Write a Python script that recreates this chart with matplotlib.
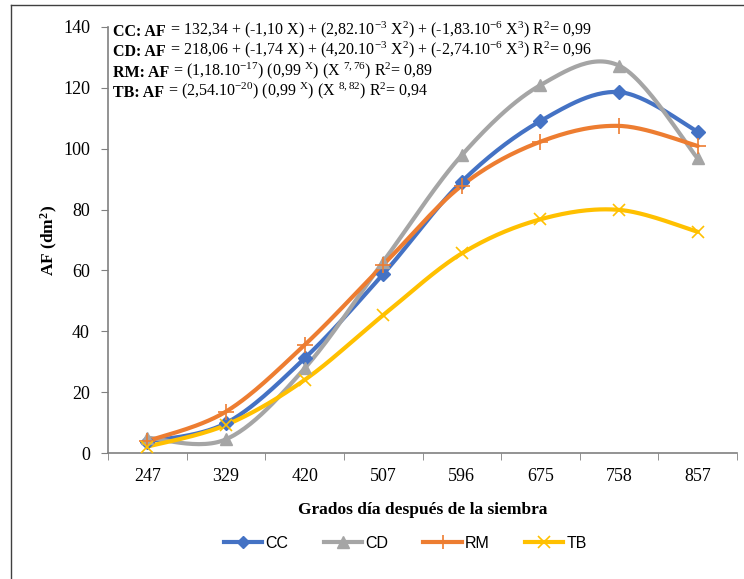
import numpy as np
import matplotlib.pyplot as plt
from matplotlib.lines import Line2D

plt.rcParams["font.family"] = "Liberation Serif"
plt.rcParams["mathtext.fontset"] = "custom"
plt.rcParams["mathtext.rm"] = "Liberation Serif"
plt.rcParams["mathtext.it"] = "Liberation Serif"
plt.rcParams["mathtext.bf"] = "Liberation Serif:bold"

# Data
grados = ["247", "329", "420", "507", "596", "675", "758", "857"]
cc = [3.7, 9.8, 31.1, 58.8, 89.2, 109.1, 118.6, 105.6]
cd = [5.0, 4.5, 27.8, 62.9, 97.9, 120.9, 127.3, 96.8]
rm = [3.9, 13.6, 35.5, 61.8, 87.9, 102.3, 107.5, 100.9]
tb = [2.1, 9.2, 24.0, 45.3, 65.6, 76.8, 79.9, 72.7]

series = [
    ("CC", cc, "#4472C4", "D", 7, 1.0),
    ("CD", cd, "#A5A5A5", "^", 9, 1.0),
    ("RM", rm, "#ED7D31", "+", 11, 1.2),
    ("TB", tb, "#FFC000", "x", 9, 1.2),
]

# fitted equations: bold prefix + rest
eq_heads = ["CC: AF", "CD: AF", "RM: AF", "TB: AF"]
eq_tails = [
    r" = 132,34 + (-1,10 X) + (2,82.10$^{\mathrm{-3}}$ X$^{\mathrm{2}}$) + (-1,83.10$^{\mathrm{-6}}$ X$^{\mathrm{3}}$) R$^{\mathrm{2}}$= 0,99",
    r" = 218,06 + (-1,74 X) + (4,20.10$^{\mathrm{-3}}$ X$^{\mathrm{2}}$) + (-2,74.10$^{\mathrm{-6}}$ X$^{\mathrm{3}}$) R$^{\mathrm{2}}$= 0,96",
    r" = (1,18.10$^{\mathrm{-17}}$) (0,99 $^{\mathrm{X}}$) (X $^{\mathrm{7,76}}$) R$^{\mathrm{2}}$= 0,89",
    r" = (2,54.10$^{\mathrm{-20}}$) (0,99 $^{\mathrm{X}}$) (X $^{\mathrm{8,82}}$) R$^{\mathrm{2}}$= 0,94",
]


def smooth(y, n=30):
    # cardinal spline through the points (same as spreadsheet "smoothed line")
    y = np.asarray(y, dtype=float)
    x = np.arange(len(y), dtype=float)
    px = np.concatenate([[x[0]], x, [x[-1]]])
    py = np.concatenate([[y[0]], y, [y[-1]]])
    xs, ys = [], []
    t = np.linspace(0, 1, n)
    for i in range(1, len(px) - 2):
        p0 = np.array([px[i], py[i]])
        p3 = np.array([px[i + 1], py[i + 1]])
        p1 = p0 + (np.array([px[i + 1], py[i + 1]]) - np.array([px[i - 1], py[i - 1]])) / 6
        p2 = p3 - (np.array([px[i + 2], py[i + 2]]) - np.array([px[i], py[i]])) / 6
        b = ((1 - t) ** 3)[:, None] * p0 + (3 * (1 - t) ** 2 * t)[:, None] * p1 \
            + (3 * (1 - t) * t ** 2)[:, None] * p2 + (t ** 3)[:, None] * p3
        xs.extend(b[:, 0])
        ys.extend(b[:, 1])
    return np.array(xs), np.array(ys)


fig = plt.figure(figsize=(7.44, 5.79), dpi=100)
ax = fig.add_axes([0.1452, 0.2176, 0.8454, 0.7358])

x = np.arange(len(grados))
handles = []
for name, vals, color, marker, ms, mew in series:
    sx, sy = smooth(vals)
    ax.plot(sx, sy, color=color, lw=3, solid_capstyle="round", zorder=2)
    ax.plot(x, vals, linestyle="none", marker=marker, ms=ms, color=color,
            mec=color, mew=mew, zorder=3)
    handles.append(Line2D([], [], color=color, lw=3, marker=marker, ms=ms - 1,
                          mec=color, mew=mew))

ax.set_xlim(-0.5, len(grados) - 0.5)
ax.set_ylim(0, 140)
ax.set_yticks(range(0, 141, 20))
ax.set_xticks(x)
ax.set_xticklabels(grados)
ax.set_xticks(np.arange(-0.5, len(grados)), minor=True)
ax.tick_params(axis="x", which="major", length=0, labelsize=13, pad=11)
ax.tick_params(axis="x", which="minor", length=5, color="#808080")
ax.tick_params(axis="y", length=5, color="#808080", labelsize=13, pad=8)
for s in ["top", "right"]:
    ax.spines[s].set_visible(False)
for s in ["left", "bottom"]:
    ax.spines[s].set_color("#808080")
    ax.spines[s].set_linewidth(1.2)

ax.set_xlabel("Grados día después de la siembra", fontsize=12.5,
              fontweight="bold", labelpad=12)
ax.set_ylabel(r"AF (dm$^{\mathbf{2}}$)", fontsize=12.5, fontweight="bold",
              labelpad=2)

for i in range(len(eq_heads)):
    head = fig.text(113 / 744, 1 - (36 + 20.3 * i) / 579, eq_heads[i],
                    fontsize=11.5, fontweight="bold", va="baseline", ha="left")
    ax.annotate(eq_tails[i], xy=(1, 0), xycoords=head, va="bottom",
                ha="left", fontsize=11.5, annotation_clip=False)

fig.legend(handles, ["CC", "CD", "RM", "TB"], loc="center",
           bbox_to_anchor=(0.545, 1 - 543 / 579), ncol=4, frameon=False,
           prop={"family": "Liberation Sans", "size": 11.5},
           handlelength=2.4, columnspacing=2.2, handletextpad=0.2)

# chart frame
fig.add_artist(Line2D([10.5 / 744, 10.5 / 744], [0, 1 - 4.5 / 579],
                      color="#404040", lw=1, transform=fig.transFigure))
fig.add_artist(Line2D([10.5 / 744, 1], [1 - 4.5 / 579, 1 - 4.5 / 579],
                      color="#404040", lw=1, transform=fig.transFigure))

fig.savefig("out.png", dpi=100)
